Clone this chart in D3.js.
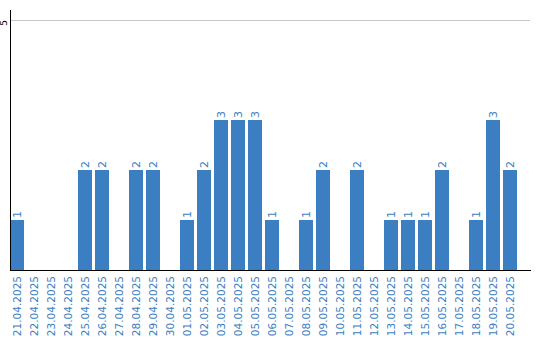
<!DOCTYPE html>
<html>
<head>
<meta charset="utf-8">
<script src="https://cdn.jsdelivr.net/npm/d3@7"></script>
<style>
	body { margin: 0; background: #fff; }
	svg { display: block; }
	text { font-family: "DejaVu Sans", Verdana, sans-serif; }
</style>
</head>
<body>
<svg id="chart" width="540" height="340"></svg>
<script>
// Daily counts, 21.04.2025 - 20.05.2025.
var dates = [
	'21.04.2025', '22.04.2025', '23.04.2025', '24.04.2025', '25.04.2025', '26.04.2025',
	'27.04.2025', '28.04.2025', '29.04.2025', '30.04.2025', '01.05.2025', '02.05.2025',
	'03.05.2025', '04.05.2025', '05.05.2025', '06.05.2025', '07.05.2025', '08.05.2025',
	'09.05.2025', '10.05.2025', '11.05.2025', '12.05.2025', '13.05.2025', '14.05.2025',
	'15.05.2025', '16.05.2025', '17.05.2025', '18.05.2025', '19.05.2025', '20.05.2025'
];
var counts = [1, 0, 0, 0, 2, 2, 0, 2, 2, 0, 1, 2, 3, 3, 3, 1, 0, 1, 2, 0, 2, 0, 1, 1, 1, 2, 0, 1, 3, 2];
var yTicks = [5];

var blue = '#3b7ec2';
var svg = d3.select('#chart');

var x = d3.scaleBand()
	.domain(dates)
	.range([10, 517])
	.paddingInner(3 / 17)
	.paddingOuter(0);

var y = d3.scaleLinear()
	.domain([0, 5])
	.range([270, 20]);

// Grid line at the top tick.
svg.selectAll('.grid')
	.data(yTicks)
	.enter().append('line')
	.attr('x1', 10).attr('x2', 530)
	.attr('y1', function(d) { return y(d) + 0.5; })
	.attr('y2', function(d) { return y(d) + 0.5; })
	.attr('stroke', '#c8c8c8');

// Bars.
svg.selectAll('.bar')
	.data(counts)
	.enter().append('rect')
	.attr('x', function(d, i) { return x(dates[i]); })
	.attr('y', function(d) { return y(d); })
	.attr('width', x.bandwidth())
	.attr('height', function(d) { return y(0) - y(d); })
	.attr('fill', blue);

// Value labels, rotated, only for days with a count.
counts.forEach(function(d, i) {
	if (!d) return;
	svg.append('text')
		.attr('transform', 'translate(' + (x(dates[i]) + x.bandwidth() / 2 + 4) + ',' + (y(d) - 2) + ') rotate(-90)')
		.attr('font-size', 11)
		.attr('fill', blue)
		.text(d);
});

// Date labels.
var xAxis = d3.axisBottom(x).tickSize(0).tickPadding(0);
var gx = svg.append('g')
	.attr('transform', 'translate(0,270)')
	.call(xAxis);
gx.select('.domain').remove();
gx.selectAll('text')
	.attr('transform', 'translate(4,6) rotate(-90)')
	.attr('x', 0).attr('y', 0).attr('dy', null)
	.attr('text-anchor', 'end')
	.attr('font-size', 10.5)
	.attr('font-family', '"DejaVu Sans", Verdana, sans-serif')
	.attr('fill', blue);

// Axis lines.
svg.append('line')
	.attr('x1', 10).attr('x2', 531)
	.attr('y1', 270.5).attr('y2', 270.5)
	.attr('stroke', '#000');
svg.append('line')
	.attr('x1', 10.5).attr('x2', 10.5)
	.attr('y1', 10).attr('y2', 270)
	.attr('stroke', '#000');

svg.selectAll('.ytick')
	.data(yTicks)
	.enter().append('text')
	.attr('transform', function(d) { return 'translate(7,' + (y(d) + 3) + ') rotate(-90)'; })
	.attr('text-anchor', 'middle')
	.attr('font-size', 9)
	.attr('fill', '#000')
	.text(function(d) { return d; });
</script>
</body>
</html>
